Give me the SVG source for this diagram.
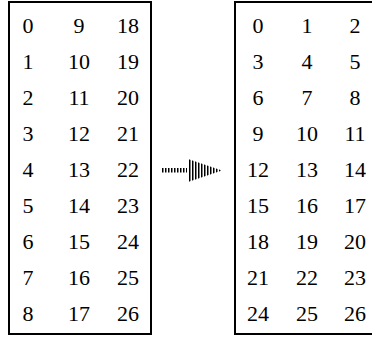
<svg xmlns="http://www.w3.org/2000/svg" width="372" height="339" viewBox="0 0 372 339">
<style>
.box{fill:#fff;stroke:#000;stroke-width:2}
text{font-family:"Liberation Serif","Times New Roman",serif;font-size:22px;fill:#000;text-anchor:middle}
</style>
<defs>
<pattern id="stripes" patternUnits="userSpaceOnUse" x="0" y="0" width="3" height="3">
<rect x="0" y="0" width="1.5" height="3" fill="#000"/>
</pattern>
</defs>
<rect width="372" height="339" fill="#fff"/>
<g id="left-matrix">
<rect class="box" x="9" y="2" width="142" height="332"/>
<text x="28" y="33">0</text><text x="79" y="33">9</text><text x="128" y="33">18</text>
<text x="28" y="69">1</text><text x="79" y="69">10</text><text x="128" y="69">19</text>
<text x="28" y="105">2</text><text x="79" y="105">11</text><text x="128" y="105">20</text>
<text x="28" y="141">3</text><text x="79" y="141">12</text><text x="128" y="141">21</text>
<text x="28" y="177">4</text><text x="79" y="177">13</text><text x="128" y="177">22</text>
<text x="28" y="213">5</text><text x="79" y="213">14</text><text x="128" y="213">23</text>
<text x="28" y="249">6</text><text x="79" y="249">15</text><text x="128" y="249">24</text>
<text x="28" y="285">7</text><text x="79" y="285">16</text><text x="128" y="285">25</text>
<text x="28" y="321">8</text><text x="79" y="321">17</text><text x="128" y="321">26</text>
</g>
<g id="right-matrix">
<rect class="box" x="235" y="2" width="142" height="332"/>
<text x="258" y="33">0</text><text x="307" y="33">1</text><text x="355" y="33">2</text>
<text x="258" y="69">3</text><text x="307" y="69">4</text><text x="355" y="69">5</text>
<text x="258" y="105">6</text><text x="307" y="105">7</text><text x="355" y="105">8</text>
<text x="258" y="141">9</text><text x="307" y="141">10</text><text x="355" y="141">11</text>
<text x="258" y="177">12</text><text x="307" y="177">13</text><text x="355" y="177">14</text>
<text x="258" y="213">15</text><text x="307" y="213">16</text><text x="355" y="213">17</text>
<text x="258" y="249">18</text><text x="307" y="249">19</text><text x="355" y="249">20</text>
<text x="258" y="285">21</text><text x="307" y="285">22</text><text x="355" y="285">23</text>
<text x="258" y="321">24</text><text x="307" y="321">25</text><text x="355" y="321">26</text>
</g>
<g id="connectors">
<rect x="162" y="168" width="25" height="4.5" fill="url(#stripes)"/>
<polygon points="188,159 222,170.5 188,182" fill="url(#stripes)"/>
</g>
</svg>
